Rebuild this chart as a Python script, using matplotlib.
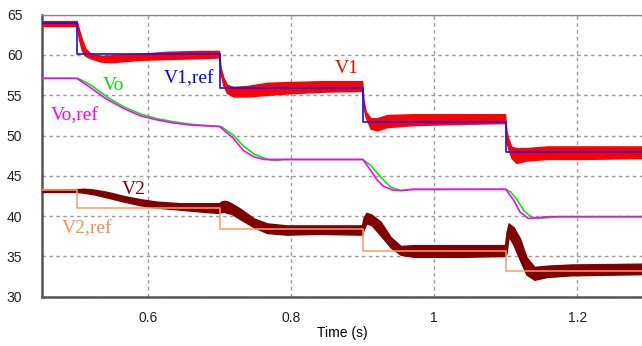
import matplotlib
matplotlib.use("Agg")
import matplotlib.pyplot as plt

# reference steps (blue V1,ref / orange V2,ref)
ref_t = [0.451, 0.5, 0.7, 0.9, 1.1, 1.291]
v1_ref = [64.0, 60.08, 55.87, 51.72, 47.92, 47.92]
v2_ref = [43.24, 40.95, 38.35, 35.7, 33.24, 33.24]

# V1 (red band, upper/lower envelope of the ripple)
v1_t = [0.451, 0.500, 0.503, 0.507, 0.512, 0.519, 0.533, 0.547, 0.561, 0.589, 0.626, 0.673, 0.699,
        0.701, 0.705, 0.710, 0.719, 0.738, 0.766, 0.799, 0.845, 0.899,
        0.901, 0.904, 0.911, 0.920, 0.934, 0.972, 1.040, 1.099,
        1.101, 1.104, 1.108, 1.115, 1.129, 1.158, 1.205, 1.291]
v1_hi = [64.2, 64.2, 63.2, 62.0, 60.8, 60.2, 59.9, 59.95, 60.05, 60.15, 60.4, 60.5, 60.5,
         58.5, 57.2, 56.3, 56.05, 56.15, 56.55, 56.65, 56.75, 56.75,
         54.5, 53.0, 52.15, 52.15, 52.55, 52.65, 52.65, 52.65,
         50.5, 49.5, 48.6, 48.45, 48.45, 48.65, 48.65, 48.65]
v1_lo = [63.6, 63.6, 62.0, 60.6, 59.9, 59.6, 59.2, 59.1, 59.2, 59.4, 59.5, 59.6, 59.7,
         57.8, 56.2, 55.3, 54.85, 54.85, 55.05, 55.25, 55.45, 55.55,
         53.5, 52.3, 50.85, 50.65, 51.05, 51.3, 51.45, 51.55,
         49.2, 48.2, 47.2, 46.6, 46.9, 47.1, 47.1, 47.2]

# V2 (dark red band)
v2_t = [0.451, 0.500, 0.510, 0.524, 0.543, 0.566, 0.589, 0.612, 0.645, 0.682, 0.699,
        0.702, 0.706, 0.710, 0.716, 0.729, 0.748, 0.766, 0.794, 0.836, 0.899,
        0.901, 0.905, 0.912, 0.925, 0.939, 0.953, 0.972, 1.040, 1.099,
        1.101, 1.104, 1.111, 1.120, 1.129, 1.140, 1.158, 1.191, 1.291]
v2_hi = [43.3, 43.35, 43.4, 43.3, 43.0, 42.5, 42.1, 41.8, 41.6, 41.6, 41.6,
         41.8, 41.9, 41.85, 41.6, 40.9, 39.7, 39.1, 38.85, 38.85, 38.85,
         39.8, 40.4, 40.2, 39.3, 37.4, 36.3, 36.4, 36.4, 36.4,
         38.0, 39.1, 38.6, 37.2, 34.9, 33.7, 33.85, 34.0, 34.1]
v2_lo = [43.0, 43.0, 42.9, 42.7, 42.3, 41.8, 41.35, 41.05, 40.8, 40.5, 40.4,
         40.5, 40.55, 40.4, 40.3, 39.6, 38.6, 37.9, 37.7, 37.8, 37.7,
         38.3, 39.1, 38.9, 37.6, 36.1, 35.2, 34.95, 34.95, 35.05,
         35.4, 37.5, 36.4, 34.5, 32.75, 32.1, 32.45, 32.65, 32.8]

# Vo,ref (magenta) and Vo (green)
vo_ref_t = [0.451, 0.500, 0.519, 0.542, 0.566, 0.589, 0.612, 0.636, 0.659, 0.700,
            0.719, 0.733, 0.748, 0.762, 0.900,
            0.911, 0.920, 0.929, 0.943, 0.957, 0.970,
            1.100, 1.111, 1.120, 1.132, 1.144, 1.160, 1.291]
vo_ref = [57.1, 57.1, 55.96, 54.5, 53.35, 52.45, 51.95, 51.55, 51.3, 51.12,
          49.65, 48.15, 47.35, 47.03, 47.03,
          45.7, 44.5, 43.7, 43.2, 43.2, 43.33,
          43.33, 42.0, 40.5, 39.7, 39.8, 39.93, 39.93]
vo_t = [0.451, 0.502, 0.520, 0.543, 0.566, 0.590, 0.612, 0.636, 0.660, 0.680,
        0.702, 0.719, 0.733, 0.748, 0.762, 0.771, 0.780, 0.790,
        0.900, 0.911, 0.925, 0.939, 0.953, 0.965,
        1.100, 1.107, 1.116, 1.125, 1.134, 1.144, 1.158, 1.175, 1.291]
vo = [57.1, 57.1, 56.25, 54.75, 53.55, 52.65, 52.1, 51.7, 51.4, 51.25,
      51.12, 50.05, 48.7, 47.7, 47.2, 46.95, 46.9, 47.03,
      47.03, 46.3, 44.85, 43.6, 43.15, 43.3,
      43.33, 43.0, 42.0, 40.7, 40.0, 39.7, 39.8, 39.93, 39.93]

labels = ["V1", "V1,ref", "Vo", "Vo,ref", "V2", "V2,ref"]
label_t = [0.861, 0.621, 0.537, 0.463, 0.563, 0.479]
label_v = [57.73, 56.49, 55.65, 51.93, 42.71, 37.94]
label_colors = ["#ff0000", "#0000ff", "#00e000", "#ff00ff", "#800000", "#ff8a50"]

fig = plt.figure(figsize=(6.42, 3.46), dpi=100)
ax = fig.add_axes([0.065, 0.1425, 0.935, 0.815])

ax.fill_between(v1_t, v1_lo, v1_hi, color="#ff0000", linewidth=1.0, edgecolor="#ff0000", zorder=3)
ax.fill_between(v2_t, v2_lo, v2_hi, color="#800000", linewidth=1.0, edgecolor="#800000", zorder=3)
ax.plot(vo_t, vo, color="#00ee00", linewidth=1.2, zorder=4)
ax.plot(vo_ref_t, vo_ref, color="#ff00ff", linewidth=1.2, zorder=5)
ax.plot(ref_t, v1_ref, drawstyle="steps-post", color="#1010ff", linewidth=1.2, zorder=6)
ax.plot(ref_t, v2_ref, drawstyle="steps-post", color="#ff9a66", linewidth=1.1, zorder=6)

for s, t, v, c in zip(labels, label_t, label_v, label_colors):
    ax.text(t, v, s, color=c, fontsize=14, family="Liberation Serif", ha="left", va="baseline", zorder=7)

ax.set_xlim(0.451, 1.2905)
ax.set_ylim(30, 65)
ax.set_xticks([0.6, 0.8, 1.0, 1.2])
ax.set_xticklabels(["0.6", "0.8", "1", "1.2"])
ax.set_yticks(range(30, 66, 5))
ax.tick_params(length=0, labelsize=10, colors="#222222")
ax.tick_params(axis="y", pad=14)
ax.tick_params(axis="x", pad=10)
for lab in ax.get_xticklabels() + ax.get_yticklabels():
    lab.set_family("Liberation Sans")
ax.set_xlabel("Time (s)", fontsize=10, family="Liberation Sans", labelpad=1)

ax.grid(True, color="#999999", linestyle=(0, (2.5, 2.5)), linewidth=1)
ax.set_axisbelow(True)
ax.spines["right"].set_visible(False)
ax.spines["top"].set_color("#888888")
ax.spines["top"].set_linewidth(1)
for side in ("left", "bottom"):
    ax.spines[side].set_color("#555555")
    ax.spines[side].set_linewidth(1.8)

plt.savefig("out.png", dpi=100)
